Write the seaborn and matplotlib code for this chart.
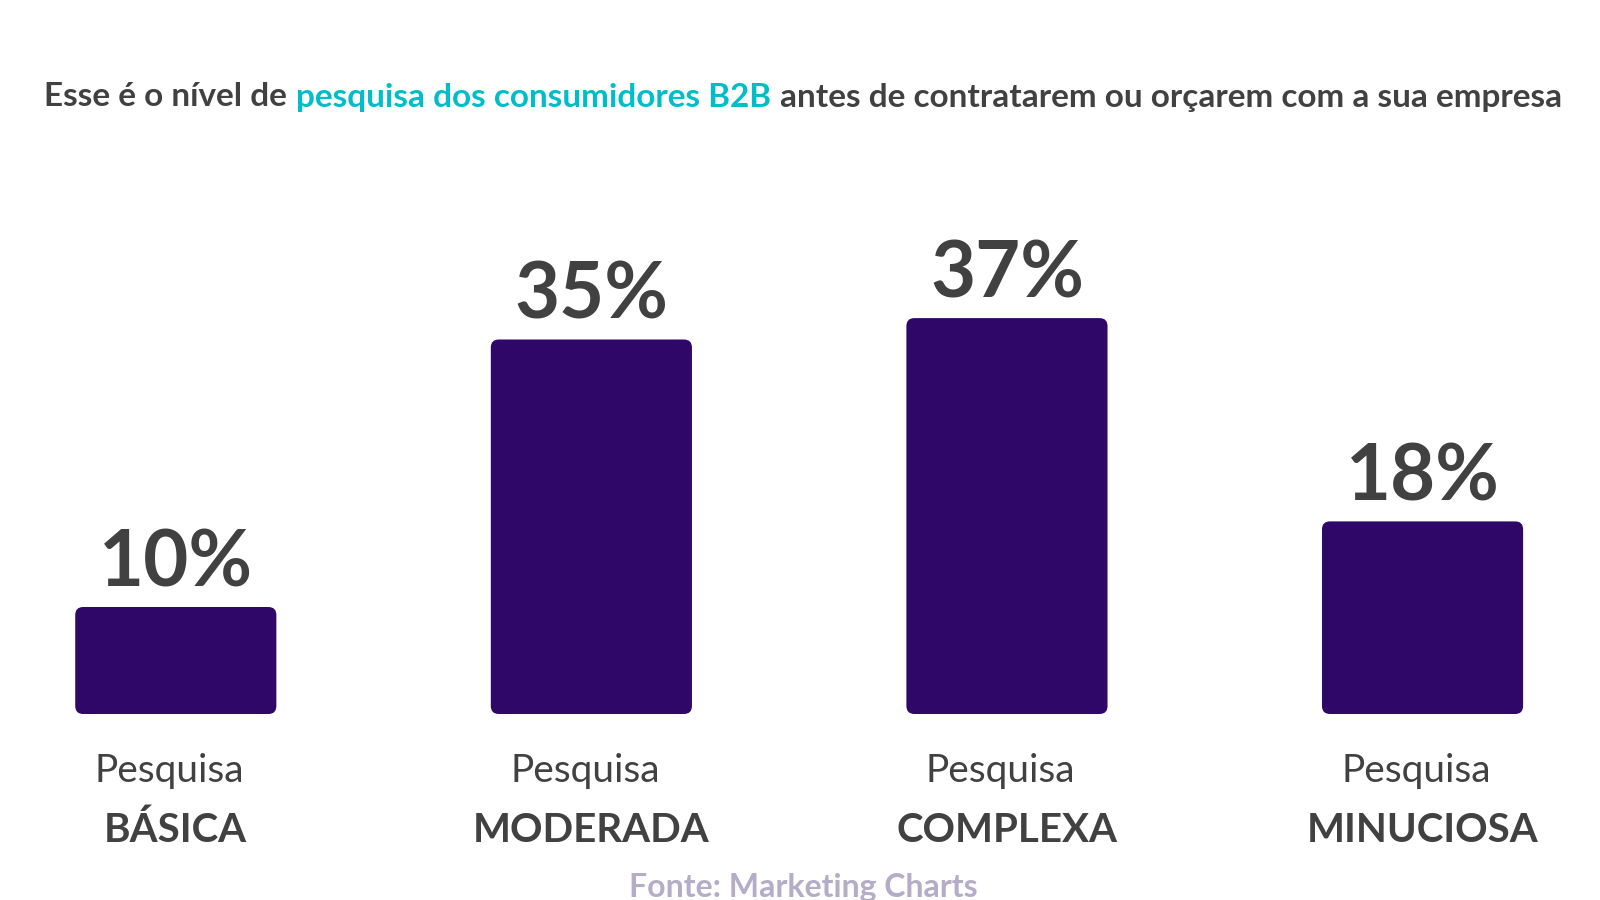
import matplotlib
matplotlib.use("Agg")
import matplotlib.pyplot as plt
import matplotlib.transforms as mtransforms
from matplotlib.patches import FancyBboxPatch
import pandas as pd
import seaborn as sns

# dados do gráfico
categories = ["BÁSICA", "MODERADA", "COMPLEXA", "MINUCIOSA"]
values = [10, 35, 37, 18]
prefix = "Pesquisa"
title_parts = [
    "Esse é o nível de",
    "pesquisa dos consumidores B2B",
    "antes de contratarem ou orçarem com a sua empresa",
]
source = "Fonte: Marketing Charts"

BAR = "#2E0769"
DARK = "#414141"
CYAN = "#00BDCA"
SRC = "#B5ACC8"

sns.set_theme(style="white")
plt.rcParams["font.family"] = ["Lato", "DejaVu Sans"]

fig = plt.figure(figsize=(16, 9), dpi=100)
fig.patch.set_facecolor("white")
ax = fig.add_axes([0, 186 / 900, 1, 535 / 900])

df = pd.DataFrame({"cat": categories, "val": values})
sns.barplot(data=df, x="cat", y="val", color=BAR, width=0.484,
            saturation=1, ax=ax)
ax.set_xlim(-0.423, 3.427)
ax.set_ylim(0, 50)
ax.axis("off")

# cantos arredondados
fig.canvas.draw()
o = ax.transData.transform((0, 0))
px_x = ax.transData.transform((1, 0))[0] - o[0]
px_y = ax.transData.transform((0, 1))[1] - o[1]
for p in list(ax.patches):
    x, y, w, h = p.get_x(), p.get_y(), p.get_width(), p.get_height()
    p.remove()
    ax.add_patch(FancyBboxPatch(
        (x, y), w, h,
        boxstyle=f"round,pad=0,rounding_size={8 / px_x}",
        mutation_aspect=px_x / px_y, fc=BAR, ec="none"))

for i, v in enumerate(values):
    ax.annotate(f"{v}%", (i, v), xytext=(0, 5), textcoords="offset points",
                ha="center", va="bottom", fontsize=56, fontweight="bold",
                color=DARK)

trans = mtransforms.blended_transform_factory(ax.transData, fig.transFigure)
for i, c in enumerate(categories):
    ax.text(i - 0.015, 1 - 771 / 900, prefix, transform=trans, ha="center",
            va="center", fontsize=28, color=DARK)
    ax.text(i, 1 - 830 / 900, c, transform=trans, ha="center",
            va="center", fontsize=29, fontweight="bold", color=DARK)

# título em três partes, ajustado à largura de ~1517 px
renderer = fig.canvas.get_renderer()
colors = [DARK, CYAN, DARK]
texts = [fig.text(0, 1 - 97 / 900, t, ha="left", va="center",
                  fontsize=30, fontweight="bold", color=col)
         for t, col in zip(title_parts, colors)]


def layout_title(size):
    for t in texts:
        t.set_fontsize(size)
    widths = [t.get_window_extent(renderer).width for t in texts]
    gap = size * 0.27 * 100 / 72
    return widths, gap, sum(widths) + gap * (len(widths) - 1)


widths, gap, total = layout_title(30)
size = 30 * 1517 / total
widths, gap, total = layout_title(size)
x0 = (1600 - total) / 2 + 3
for t, w in zip(texts, widths):
    t.set_x(x0 / 1600)
    x0 += w + gap

fig.text(0.502, 1 - 887 / 900, source, ha="center", va="center",
         fontsize=23, fontweight="bold", color=SRC)

fig.savefig("out.png", dpi=100, facecolor="white")
